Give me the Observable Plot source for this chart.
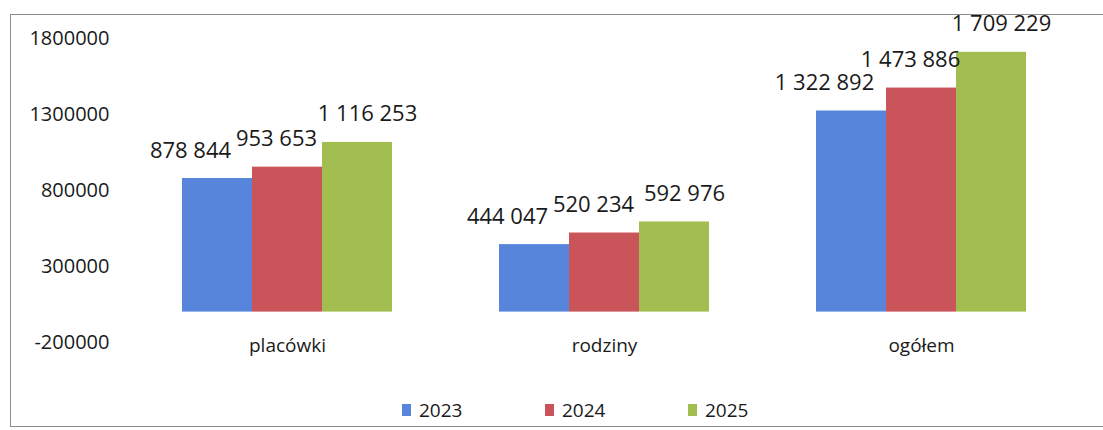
<!DOCTYPE html>
<html>
<head>
<meta charset="utf-8">
<script src="https://cdn.jsdelivr.net/npm/d3@7"></script>
<script src="https://cdn.jsdelivr.net/npm/@observablehq/plot@0.6"></script>
<style>
  html, body { margin: 0; padding: 0; background: #fff; }
  body { width: 1103px; height: 430px; position: relative; overflow: hidden; font-family: "Open Sans", sans-serif; }
  #frame { position: absolute; left: 10px; top: 14px; width: 1100px; height: 411px; border: 1px solid #8c8c8c; border-right: none; }
  #chart { position: absolute; left: 0; top: 0; }
  #legend { position: absolute; left: 402px; top: 398px; display: flex; }
  .item { width: 143px; display: flex; align-items: center; font-size: 19px; color: #1a1a1a; line-height: 24px; }
  .sw { width: 9px; height: 12px; margin-right: 8px; }
</style>
</head>
<body>
<div id="frame"></div>
<div id="chart"></div>
<div id="legend"></div>
<script>
const categories = ["placówki", "rodziny", "ogółem"];
const years = ["2023", "2024", "2025"];
const values2023 = [878844, 444047, 1322892];
const values2024 = [953653, 520234, 1473886];
const values2025 = [1116253, 592976, 1709229];
const yTicks = [-200000, 300000, 800000, 1300000, 1800000];
const colors = ["#5885dc", "#c9545a", "#a3be50"];

const series = [values2023, values2024, values2025];
const data = [];
categories.forEach((c, i) => {
  years.forEach((y, j) => data.push({cat: c, year: y, value: series[j][i]}));
});

const fmt = d3.formatLocale({decimal: ",", thousands: " ", grouping: [3], currency: ["", ""]}).format(",");
const labelShift = {"2023": -27, "2024": -11, "2025": 10};

const plot = Plot.plot({
  width: 1103,
  height: 380,
  marginLeft: 180,
  marginRight: 75,
  marginTop: 38,
  marginBottom: 38,
  style: {fontFamily: "Open Sans, sans-serif", color: "#1a1a1a", background: "transparent"},
  fx: {domain: categories, paddingInner: 0.33, paddingOuter: 0, axis: null},
  x: {domain: years, padding: 0, axis: null},
  y: {domain: [-200000, 1800000], axis: null},
  color: {domain: years, range: colors},
  marks: [
    Plot.axisY({ticks: yTicks, tickFormat: d => String(d), tickSize: 0, tickPadding: 72, fontSize: 20, label: null}),
    Plot.barY(data, {fx: "cat", x: "year", y: "value", fill: "year"}),
    ...years.map(yr => Plot.text(data.filter(d => d.year === yr), {
      fx: "cat", x: "year", y: "value", text: d => fmt(d.value),
      fontSize: 22, lineAnchor: "middle", dy: -28, dx: labelShift[yr], fill: "#1a1a1a"
    })),
    Plot.text(categories, {fx: d => d, y: () => -200000, text: d => d, fontSize: 19, lineAnchor: "middle", dy: 3, fill: "#1a1a1a"})
  ]
});
document.getElementById("chart").appendChild(plot);

const legend = document.getElementById("legend");
years.forEach((y, i) => {
  const it = document.createElement("div");
  it.className = "item";
  const sw = document.createElement("span");
  sw.className = "sw";
  sw.style.background = colors[i];
  const t = document.createElement("span");
  t.textContent = y;
  it.appendChild(sw);
  it.appendChild(t);
  legend.appendChild(it);
});
</script>
</body>
</html>
